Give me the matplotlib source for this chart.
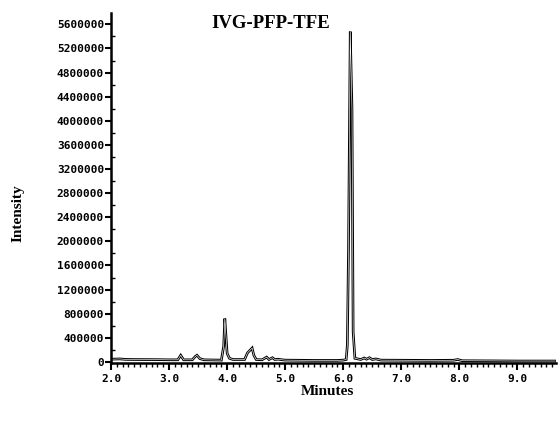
import matplotlib
matplotlib.use("Agg")
import matplotlib.pyplot as plt
from matplotlib.ticker import MultipleLocator, FixedLocator

title = "IVG-PFP-TFE"
x_label = "Minutes"
y_label = "Intensity"

time_min = [2.00, 2.15, 2.25, 2.40, 2.80, 3.00, 3.15, 3.20, 3.25, 3.40, 3.45, 3.48, 3.53, 3.60,
            3.90, 3.94, 3.96, 3.98, 4.00, 4.04, 4.10, 4.30, 4.35, 4.40, 4.43, 4.46, 4.50,
            4.60, 4.68, 4.72, 4.78, 4.82, 4.88, 4.95, 5.00, 5.50, 5.90, 6.00, 6.05, 6.07,
            6.09, 6.12, 6.15, 6.17, 6.20, 6.30, 6.36, 6.40, 6.45, 6.50, 6.56, 6.65, 7.00,
            7.50, 7.90, 7.97, 8.05, 8.50, 9.00, 9.65]
intensity = [45000, 50000, 42000, 40000, 38000, 35000, 35000, 110000, 35000, 35000, 90000, 110000, 55000, 35000,
             30000, 260000, 720000, 420000, 140000, 60000, 40000, 40000, 150000, 200000, 230000, 110000, 40000,
             35000, 80000, 40000, 70000, 40000, 45000, 35000, 30000, 25000, 25000, 30000, 40000, 280000,
             1850000, 5480000, 4200000, 500000, 60000, 40000, 65000, 45000, 70000, 40000, 50000, 30000, 28000,
             25000, 28000, 40000, 20000, 18000, 15000, 15000]

y_ticks = [0, 400000, 800000, 1200000, 1600000, 2000000, 2400000, 2800000, 3200000,
           3600000, 4000000, 4400000, 4800000, 5200000, 5600000]
x_ticks = [2.0, 3.0, 4.0, 5.0, 6.0, 7.0, 8.0, 9.0]

fig = plt.figure(figsize=(5.58, 4.26), dpi=100)
ax = fig.add_axes([0.199, 0.148, 0.797, 0.822])

ax.plot(time_min, intensity, color="black", lw=1.9, solid_joinstyle="miter")
ax.plot(time_min, intensity, color="white", lw=0.45)

ax.set_xlim(2.0, 9.66)
ax.set_ylim(-17000, 5792000)

for s in ["top", "right"]:
    ax.spines[s].set_visible(False)
for s in ["left", "bottom"]:
    ax.spines[s].set_linewidth(1.8)

ax.xaxis.set_major_locator(FixedLocator(x_ticks))
ax.xaxis.set_minor_locator(MultipleLocator(0.1))
ax.yaxis.set_major_locator(FixedLocator(y_ticks))
ax.yaxis.set_minor_locator(MultipleLocator(200000))
ax.set_xticklabels([f"{v:.1f}" for v in x_ticks])
ax.set_yticklabels([str(v) for v in y_ticks])

ax.tick_params(axis="x", which="major", direction="out", length=5, width=1.5, pad=3)
ax.tick_params(axis="x", which="minor", direction="out", length=3, width=1.0)
ax.tick_params(axis="y", which="major", direction="out", length=4, width=1.5, pad=1)
ax.tick_params(axis="y", which="minor", direction="in", length=3, width=1.0)
for lab in ax.get_xticklabels() + ax.get_yticklabels():
    lab.set_fontfamily("DejaVu Sans Mono")
    lab.set_fontweight("bold")
    lab.set_fontsize(8)

fig.text(0.486, 0.945, title, ha="center", va="center", fontsize=13.5,
         fontweight="bold", family="Liberation Serif")
fig.text(0.586, 0.080, x_label, ha="center", va="center", fontsize=11,
         fontweight="bold", family="Liberation Serif")
fig.text(0.033, 0.50, y_label, ha="center", va="center", rotation=90, fontsize=11,
         fontweight="bold", family="Liberation Serif")

fig.savefig("out.png", dpi=100)
